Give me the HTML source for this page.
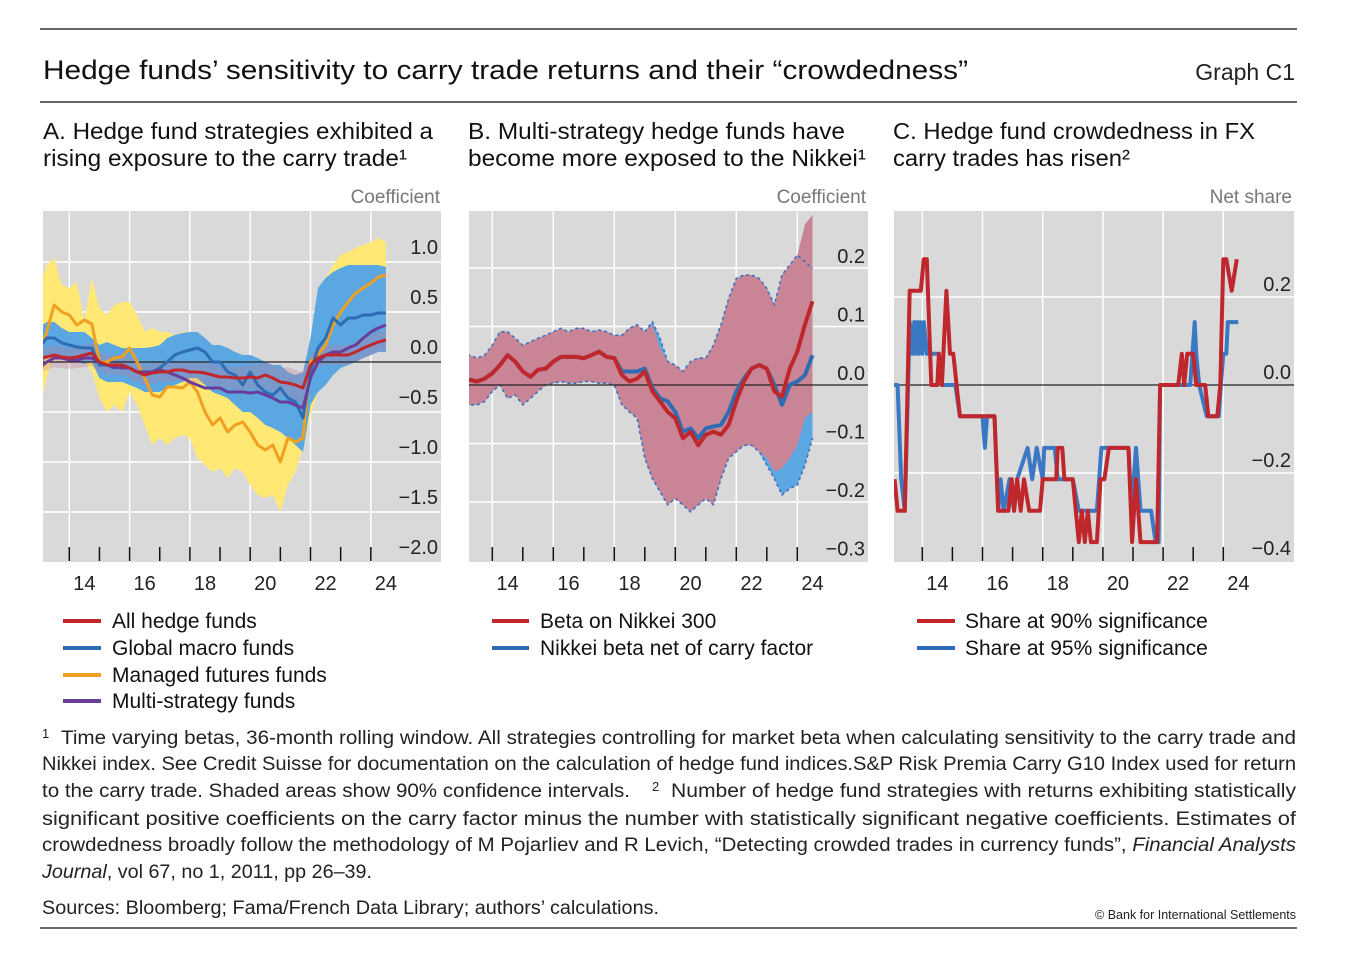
<!DOCTYPE html>
<html><head><meta charset="utf-8">
<style>
html,body{margin:0;padding:0;background:#fff;}
svg{display:block;font-family:"Liberation Sans",sans-serif;}
</style></head>
<body>
<svg id="root" width="1351" height="964" viewBox="0 0 1351 964" xmlns="http://www.w3.org/2000/svg">
<line x1="40" y1="29" x2="1297" y2="29" stroke="#333" stroke-width="1.5"/>
<text x="43" y="79" font-size="27" fill="#111" textLength="925" lengthAdjust="spacingAndGlyphs">Hedge funds’ sensitivity to carry trade returns and their “crowdedness”</text>
<text x="1295" y="80" font-size="23" fill="#222" text-anchor="end">Graph C1</text>
<line x1="40" y1="102" x2="1297" y2="102" stroke="#333" stroke-width="1.5"/>

<g font-size="23" fill="#111">
<text x="43" y="139" textLength="390" lengthAdjust="spacingAndGlyphs">A. Hedge fund strategies exhibited a</text>
<text x="43" y="166" textLength="364" lengthAdjust="spacingAndGlyphs">rising exposure to the carry trade¹</text>
<text x="468" y="139" textLength="377" lengthAdjust="spacingAndGlyphs">B. Multi-strategy hedge funds have</text>
<text x="468" y="166" textLength="398" lengthAdjust="spacingAndGlyphs">become more exposed to the Nikkei¹</text>
<text x="893" y="139" textLength="362" lengthAdjust="spacingAndGlyphs">C. Hedge fund crowdedness in FX</text>
<text x="893" y="166" textLength="237" lengthAdjust="spacingAndGlyphs">carry trades has risen²</text>
</g>
<g font-size="19" fill="#777">
<text x="440" y="203" text-anchor="end">Coefficient</text>
<text x="866" y="203" text-anchor="end">Coefficient</text>
<text x="1292" y="203" text-anchor="end">Net share</text>
</g>

<g id="pa"></g>
<g id="pb"></g>
<g id="pc"></g>

<g font-size="21" fill="#111">
<line x1="63" y1="621" x2="101" y2="621" stroke="#C0272D" stroke-width="4"/><text x="112" y="628">All hedge funds</text>
<line x1="63" y1="648" x2="101" y2="648" stroke="#2E6DB4" stroke-width="4"/><text x="112" y="655">Global macro funds</text>
<line x1="63" y1="675" x2="101" y2="675" stroke="#F0A020" stroke-width="4"/><text x="112" y="682">Managed futures funds</text>
<line x1="63" y1="701" x2="101" y2="701" stroke="#6A3D9A" stroke-width="4"/><text x="112" y="708">Multi-strategy funds</text>
</g>
<g font-size="21" fill="#111">
<line x1="492" y1="621" x2="529" y2="621" stroke="#C0272D" stroke-width="4"/><text x="540" y="628">Beta on Nikkei 300</text>
<line x1="492" y1="648" x2="529" y2="648" stroke="#2E6DB4" stroke-width="4"/><text x="540" y="655">Nikkei beta net of carry factor</text>
</g>
<g font-size="21" fill="#111">
<line x1="917" y1="621" x2="955" y2="621" stroke="#C0272D" stroke-width="4"/><text x="965" y="628">Share at 90% significance</text>
<line x1="917" y1="648" x2="955" y2="648" stroke="#2E6DB4" stroke-width="4"/><text x="965" y="655">Share at 95% significance</text>
</g>

<g font-size="19" fill="#222">
<text x="42" y="738" font-size="13">1</text>
<text x="61" y="744" textLength="1235" lengthAdjust="spacingAndGlyphs">Time varying betas, 36-month rolling window. All strategies controlling for market beta when calculating sensitivity to the carry trade and</text>
<text x="42" y="770" textLength="1254" lengthAdjust="spacingAndGlyphs">Nikkei index. See Credit Suisse for documentation on the calculation of hedge fund indices.S&amp;P Risk Premia Carry G10 Index used for return</text>
<text x="42" y="797" textLength="588" lengthAdjust="spacingAndGlyphs">to the carry trade. Shaded areas show 90% confidence intervals.</text>
<text x="652" y="791" font-size="13">2</text>
<text x="671" y="797" textLength="625" lengthAdjust="spacingAndGlyphs">Number of hedge fund strategies with returns exhibiting statistically</text>
<text x="42" y="825" textLength="1254" lengthAdjust="spacingAndGlyphs">significant  positive  coefficients  on  the  carry  factor  minus  the  number  with  statistically  significant  negative  coefficients.  Estimates  of</text>
<text x="42" y="851" textLength="1254" lengthAdjust="spacingAndGlyphs">crowdedness broadly follow the methodology of M Pojarliev and R Levich, “Detecting crowded trades in currency funds”, <tspan font-style="italic">Financial Analysts</tspan></text>
<text x="42" y="878" textLength="330" lengthAdjust="spacingAndGlyphs"><tspan font-style="italic">Journal</tspan>, vol 67, no 1, 2011, pp 26–39.</text>
<text x="42" y="914" textLength="617" lengthAdjust="spacingAndGlyphs">Sources: Bloomberg; Fama/French Data Library; authors’ calculations.</text>
<text x="1296" y="919" font-size="12.5" text-anchor="end">© Bank for International Settlements</text>
</g>
<line x1="40" y1="928" x2="1297" y2="928" stroke="#333" stroke-width="1.5"/>
</svg>
<script>
const qDates = [2013.0,2013.25,2013.5,2013.75,2014.0,2014.25,2014.5,2014.75,2015.0,2015.25,2015.5,2015.75,2016.0,2016.25,2016.5,2016.75,2017.0,2017.25,2017.5,2017.75,2018.0,2018.25,2018.5,2018.75,2019.0,2019.25,2019.5,2019.75,2020.0,2020.25,2020.5,2020.75,2021.0,2021.25,2021.5,2021.75,2022.0,2022.25,2022.5,2022.75,2023.0,2023.25,2023.5,2023.75,2024.0,2024.25,2024.5];
const aManagedFutures = [0.10,0.30,0.57,0.50,0.47,0.37,0.42,0.38,0.0,0.0,0.04,0.05,0.14,0.0,-0.16,-0.33,-0.35,-0.25,-0.25,-0.26,-0.20,-0.30,-0.50,-0.63,-0.56,-0.70,-0.63,-0.60,-0.70,-0.83,-0.88,-0.83,-1.0,-0.76,-0.80,-0.76,0.0,0.07,0.17,0.37,0.50,0.60,0.69,0.74,0.79,0.85,0.87];
const aManagedHi = [0.74,0.97,1.04,0.77,0.74,0.80,0.40,0.84,0.54,0.47,0.57,0.60,0.60,0.47,0.30,0.34,0.30,0.30,0.27,0.30,0.30,0.27,0.17,0.14,0.14,0.10,0.07,0.05,0.04,0.0,-0.06,-0.13,-0.13,-0.10,-0.20,-0.10,0.17,0.47,0.84,0.97,1.07,1.10,1.14,1.17,1.20,1.24,1.20];
const aManagedLo = [-0.50,-0.16,0.10,0.14,0.04,0.07,0.0,-0.10,-0.36,-0.50,-0.43,-0.50,-0.30,-0.43,-0.63,-0.83,-0.76,-0.83,-0.76,-0.73,-0.76,-0.96,-1.03,-1.10,-1.06,-1.16,-1.06,-1.10,-1.23,-1.33,-1.36,-1.33,-1.50,-1.23,-1.10,-0.86,-0.53,-0.30,0.0,0.17,0.37,0.47,0.50,0.57,0.60,0.64,0.57];
const aMacro = [0.14,0.24,0.24,0.19,0.17,0.15,0.14,0.14,-0.03,-0.03,-0.06,-0.03,-0.06,-0.10,-0.10,-0.10,-0.06,0.0,0.07,0.10,0.12,0.14,0.10,0.0,0.0,-0.10,-0.13,-0.23,-0.10,-0.23,-0.30,-0.33,-0.26,-0.36,-0.40,-0.56,-0.10,0.14,0.24,0.44,0.37,0.44,0.44,0.47,0.47,0.49,0.49];
const aMacroHi = [0.34,0.40,0.40,0.34,0.30,0.30,0.30,0.24,0.17,0.20,0.17,0.14,0.14,0.14,0.14,0.15,0.17,0.24,0.27,0.29,0.30,0.30,0.24,0.17,0.17,0.14,0.10,0.07,0.07,0.04,0.0,-0.03,-0.03,-0.10,-0.13,-0.10,0.24,0.74,0.84,0.90,0.94,0.97,0.97,0.97,0.97,0.97,0.95];
const aMacroLo = [-0.03,0.04,0.07,0.04,0.0,0.0,-0.02,0.0,-0.16,-0.20,-0.20,-0.20,-0.23,-0.26,-0.30,-0.30,-0.30,-0.26,-0.23,-0.20,-0.16,-0.16,-0.23,-0.30,-0.33,-0.36,-0.43,-0.50,-0.50,-0.56,-0.63,-0.66,-0.70,-0.76,-0.83,-0.90,-0.43,-0.30,-0.23,-0.13,-0.06,-0.03,0.0,0.04,0.07,0.10,0.10];
const aAll = [0.04,0.05,0.07,0.05,0.04,0.05,0.07,0.09,0.0,-0.03,-0.03,-0.03,-0.06,-0.10,-0.13,-0.11,-0.10,-0.10,-0.08,-0.08,-0.10,-0.10,-0.11,-0.13,-0.15,-0.15,-0.16,-0.16,-0.15,-0.16,-0.13,-0.16,-0.20,-0.21,-0.23,-0.26,-0.03,0.04,0.07,0.07,0.07,0.07,0.10,0.14,0.17,0.20,0.22];
const aAllHi = [0.14,0.15,0.17,0.15,0.14,0.15,0.17,0.19,0.10,0.07,0.07,0.07,0.04,0.0,-0.03,-0.01,0.0,0.0,0.01,0.01,0.0,0.0,-0.01,-0.02,-0.04,-0.04,-0.05,-0.04,-0.02,-0.03,0.0,-0.03,-0.06,-0.05,-0.08,-0.10,0.08,0.14,0.17,0.17,0.17,0.17,0.20,0.24,0.27,0.30,0.32];
const aAllLo = [-0.10,-0.08,-0.05,-0.06,-0.07,-0.06,-0.05,-0.04,-0.10,-0.13,-0.13,-0.13,-0.16,-0.20,-0.23,-0.22,-0.20,-0.20,-0.19,-0.19,-0.20,-0.20,-0.22,-0.24,-0.26,-0.26,-0.28,-0.28,-0.26,-0.28,-0.26,-0.30,-0.34,-0.35,-0.38,-0.42,-0.14,-0.06,-0.03,-0.03,-0.03,-0.03,0.0,0.04,0.07,0.10,0.12];
const aMulti = [-0.06,0.0,0.04,0.04,0.02,0.02,0.04,0.04,0.0,-0.03,-0.05,-0.06,-0.06,-0.10,-0.10,-0.10,-0.08,-0.10,-0.13,-0.16,-0.20,-0.23,-0.26,-0.26,-0.26,-0.30,-0.30,-0.30,-0.31,-0.30,-0.33,-0.36,-0.40,-0.40,-0.43,-0.46,-0.16,0.0,0.07,0.10,0.10,0.14,0.17,0.24,0.30,0.34,0.37];
const aTicks = [1.0,0.5,0.0,-0.5,-1.0,-1.5,-2.0];
const aTickLabels = ["1.0","0.5","0.0","−0.5","−1.0","−1.5","−2.0"];
const bRed = [0.009,0.009,0.006,0.011,0.02,0.034,0.051,0.04,0.023,0.014,0.026,0.028,0.04,0.048,0.048,0.048,0.046,0.051,0.057,0.048,0.046,0.017,0.006,0.011,0.023,-0.011,-0.028,-0.046,-0.057,-0.091,-0.08,-0.103,-0.085,-0.08,-0.085,-0.068,-0.028,0.006,0.028,0.034,0.028,-0.011,-0.02,0.028,0.057,0.103,0.143];
const bBlue = [0.009,0.009,0.006,0.011,0.02,0.034,0.051,0.04,0.023,0.014,0.026,0.028,0.04,0.048,0.048,0.048,0.046,0.051,0.057,0.048,0.046,0.023,0.023,0.023,0.028,-0.005,-0.023,-0.028,-0.046,-0.08,-0.074,-0.091,-0.074,-0.071,-0.068,-0.046,-0.011,0.011,0.028,0.034,0.028,0.0,-0.034,0.0,0.006,0.017,0.051];
const bRedHi = [0.046,0.051,0.046,0.051,0.068,0.091,0.091,0.08,0.068,0.074,0.08,0.085,0.091,0.097,0.091,0.097,0.097,0.091,0.094,0.091,0.085,0.085,0.097,0.103,0.091,0.103,0.063,0.04,0.034,0.023,0.04,0.046,0.046,0.068,0.103,0.148,0.182,0.188,0.188,0.182,0.165,0.137,0.188,0.205,0.222,0.274,0.291];
const bRedLo = [-0.046,-0.034,-0.034,-0.028,-0.011,0.0,-0.023,-0.017,-0.034,-0.023,-0.011,0.0,0.003,0.006,0.003,0.003,0.006,0.006,0.003,0.003,0.0,-0.034,-0.046,-0.057,-0.125,-0.16,-0.182,-0.205,-0.194,-0.205,-0.217,-0.205,-0.194,-0.205,-0.16,-0.125,-0.114,-0.103,-0.103,-0.114,-0.125,-0.148,-0.142,-0.125,-0.103,-0.057,-0.046];
const bBlueHi = [0.046,0.051,0.046,0.051,0.068,0.091,0.091,0.08,0.068,0.074,0.08,0.085,0.091,0.097,0.091,0.097,0.097,0.091,0.094,0.091,0.085,0.085,0.097,0.103,0.091,0.108,0.08,0.04,0.034,0.023,0.04,0.046,0.046,0.068,0.103,0.148,0.182,0.188,0.188,0.182,0.165,0.137,0.188,0.205,0.222,0.211,0.199];
const bBlueLo = [-0.046,-0.034,-0.034,-0.028,-0.011,0.0,-0.023,-0.017,-0.034,-0.023,-0.011,0.0,0.003,0.006,0.003,0.003,0.006,0.006,0.003,0.003,0.0,-0.034,-0.046,-0.057,-0.125,-0.16,-0.182,-0.205,-0.194,-0.205,-0.217,-0.205,-0.194,-0.205,-0.16,-0.125,-0.114,-0.103,-0.103,-0.114,-0.137,-0.16,-0.188,-0.177,-0.171,-0.137,-0.091];
const bTicks = [0.2,0.1,0.0,-0.1,-0.2,-0.3];
const bTickLabels = ["0.2","0.1","0.0","−0.1","−0.2","−0.3"];
const cRedDates = [2013.08,2013.18,2013.42,2013.58,2013.95,2014.05,2014.15,2014.3,2014.5,2014.55,2014.65,2014.8,2014.92,2015.03,2015.25,2016.4,2016.52,2016.86,2016.97,2017.05,2017.15,2017.27,2017.38,2017.55,2017.91,2018.0,2018.45,2018.5,2018.65,2018.72,2019.0,2019.1,2019.2,2019.3,2019.4,2019.5,2019.6,2019.8,2019.92,2020.05,2020.2,2020.85,2020.97,2021.1,2021.25,2021.8,2021.9,2022.5,2022.62,2022.7,2022.8,2023.0,2023.1,2023.4,2023.5,2023.8,2023.9,2024.0,2024.1,2024.28,2024.45];
const cRedShare = [-0.214,-0.286,-0.286,0.214,0.214,0.286,0.286,0,0,0.071,0,0.214,0.071,0.071,-0.071,-0.071,-0.286,-0.286,-0.214,-0.286,-0.214,-0.286,-0.214,-0.286,-0.286,-0.214,-0.214,-0.143,-0.143,-0.214,-0.214,-0.286,-0.357,-0.286,-0.357,-0.286,-0.357,-0.357,-0.214,-0.214,-0.143,-0.143,-0.357,-0.214,-0.357,-0.357,0,0,0.071,0,0.071,0.071,0,0,-0.071,-0.071,0,0.286,0.286,0.214,0.286];
const cBlueDates = [2013.05,2013.18,2013.3,2013.42,2013.58,2013.68,2013.73,2013.78,2013.83,2013.88,2013.93,2014.0,2014.05,2014.15,2014.55,2014.65,2015.1,2015.25,2016.0,2016.08,2016.15,2016.4,2016.52,2016.6,2016.7,2016.9,2017.05,2017.15,2017.5,2017.65,2017.8,2018.0,2018.05,2018.4,2018.5,2019.0,2019.2,2019.8,2019.95,2020.85,2020.95,2021.1,2021.25,2021.6,2021.75,2021.85,2021.9,2022.9,2023.05,2023.1,2023.2,2023.45,2023.85,2023.92,2024.0,2024.1,2024.15,2024.5];
const cBlueShare = [0,0,-0.214,-0.286,0.143,0.071,0.143,0.071,0.143,0.071,0.143,0.071,0.143,0.071,0.071,0,0,-0.071,-0.071,-0.143,-0.071,-0.071,-0.286,-0.214,-0.286,-0.214,-0.286,-0.214,-0.143,-0.214,-0.143,-0.214,-0.143,-0.143,-0.214,-0.214,-0.286,-0.286,-0.143,-0.143,-0.286,-0.143,-0.286,-0.286,-0.357,-0.357,0,0,0.143,0.071,0,-0.071,-0.071,0,0.071,0.071,0.143,0.143];
const cTicks = [0.2,0.0,-0.2,-0.4];
const cTickLabels = ["0.2","0.0","−0.2","−0.4"];
const yearLabels = ["14","16","18","20","22","24"];

const NS = "http://www.w3.org/2000/svg";
function mk(parent, tag, attrs){const e=document.createElementNS(NS,tag);for(const k in attrs)e.setAttribute(k,attrs[k]);parent.appendChild(e);return e;}

function frame(g, P, ticks, labels, gridVals, id){
  const bg = mk(g,"rect",{x:P.l,y:P.t,width:P.r-P.l,height:P.b-P.t,fill:"#D9D9D9"});
  
  
  const cp = mk(mk(g,"defs",{}),"clipPath",{id:id+"clip"});
  mk(cp,"rect",{x:P.l,y:P.t,width:P.r-P.l,height:P.b-P.t});
  for(const v of gridVals){ const y=P.y(v); const gl=mk(g,"line",{x1:P.l,x2:P.r,y1:y,y2:y,stroke:"#fff","stroke-width":1.5});
    
     }
  for(let yr=2014; yr<=2024; yr+=2){ const x=P.x(yr); const gl=mk(g,"line",{x1:x,x2:x,y1:P.t,y2:P.b,stroke:"#fff","stroke-width":1.5});
    
     }
  for(let yr=2014; yr<=2024; yr++){ const x=P.x(yr); const tk=mk(g,"line",{x1:x,x2:x,y1:P.b-15,y2:P.b-1,stroke:"#111","stroke-width":1.5});
    
     }
  yearLabels.forEach((lab,i)=>{ const t=mk(g,"text",{x:P.x(2014+2*i+0.5),y:590,"font-size":20,"text-anchor":"middle",fill:"#222"}); t.textContent=lab;
    
     });
  ticks.forEach((v,i)=>{ const t=mk(g,"text",{x:P.r-3,y:Math.min(P.y(v)-P.lo, P.b-6),"font-size":20,"text-anchor":"end",fill:"#222"}); t.textContent=labels[i];
    
     });
  return "url(#"+id+"clip)";
}
function band(g, P, xs, lo, hi, fill, clip, name){
  let d="M"+xs.map((x,i)=>P.x(x).toFixed(1)+","+P.y(hi[i]).toFixed(1)).join("L");
  for(let i=xs.length-1;i>=0;i--) d+="L"+P.x(xs[i]).toFixed(1)+","+P.y(lo[i]).toFixed(1);
  const p=mk(g,"path",{d:d+"Z",fill:fill,"clip-path":clip});
  
  
  return p;
}
function line(g, P, xs, ys, col, w, clip, name, dash){
  const d="M"+xs.map((x,i)=>P.x(x).toFixed(1)+","+P.y(ys[i]).toFixed(1)).join("L");
  const a={d:d,fill:"none",stroke:col,"stroke-width":w,"stroke-linejoin":"round","clip-path":clip};
  if(dash) a["stroke-dasharray"]=dash;
  const p=mk(g,"path",a);
  
  
  return p;
}
function zero(g,P){ const z=mk(g,"line",{x1:P.l,x2:P.r,y1:P.y(0),y2:P.y(0),stroke:"#222","stroke-width":1.3});
  
   }

const PA={l:43,r:441,t:211,b:562,lo:8,x:yr=>69.3+(yr-2014)*30.15,y:v=>362-v*100};
const gA=document.getElementById("pa");
const clipA=frame(gA,PA,aTicks,aTickLabels,[1.0,0.5,-0.5,-1.0,-1.5],"panel-a");
band(gA,PA,qDates,aManagedLo,aManagedHi,"#FFE873",clipA,"band-managed-futures");
band(gA,PA,qDates,aMacroLo,aMacroHi,"#5BA7E1",clipA,"band-global-macro");
band(gA,PA,qDates,aAllLo,aAllHi,"rgba(200,120,150,0.3)",clipA,"band-all-hedge-funds");
zero(gA,PA);
line(gA,PA,qDates,aManagedFutures,"#F0A020",3,clipA,"line-managed-futures");
line(gA,PA,qDates,aMacro,"#2E6DB4",3,clipA,"line-global-macro");
line(gA,PA,qDates,aMulti,"#6A3D9A",3,clipA,"line-multi-strategy");
line(gA,PA,qDates,aAll,"#C0272D",3,clipA,"line-all-hedge-funds");

const PB={l:469,r:868,t:211,b:562,lo:5,x:yr=>492.3+(yr-2014)*30.5,y:v=>385-v*585};
const gB=document.getElementById("pb");
const clipB=frame(gB,PB,bTicks,bTickLabels,[0.2,0.1,-0.1,-0.2],"panel-b");
band(gB,PB,qDates,bBlueLo,bBlueHi,"#5BA7E1",clipB,"band-net-of-carry");
band(gB,PB,qDates,bRedLo,bRedHi,"#C98595",clipB,"band-beta-nikkei");
line(gB,PB,qDates,bBlueHi,"#3A6FC0",1.6,clipB,"band-net-of-carry-upper","3,3");
line(gB,PB,qDates,bBlueLo,"#3A6FC0",1.6,clipB,"band-net-of-carry-lower","3,3");
zero(gB,PB);
line(gB,PB,qDates,bBlue,"#2E6DB4",4,clipB,"line-net-of-carry");
line(gB,PB,qDates,bRed,"#C0272D",4,clipB,"line-beta-nikkei");

const PC={l:894,r:1294,t:211,b:562,lo:6,x:yr=>922.3+(yr-2014)*30.1,y:v=>385-v*440};
const gC=document.getElementById("pc");
const clipC=frame(gC,PC,cTicks,cTickLabels,[0.2,-0.2],"panel-c");
zero(gC,PC);
line(gC,PC,cBlueDates,cBlueShare,"#3A78C3",4,clipC,"line-share-95");
line(gC,PC,cRedDates,cRedShare,"#C0272D",4,clipC,"line-share-90");
</script>
</body></html>
